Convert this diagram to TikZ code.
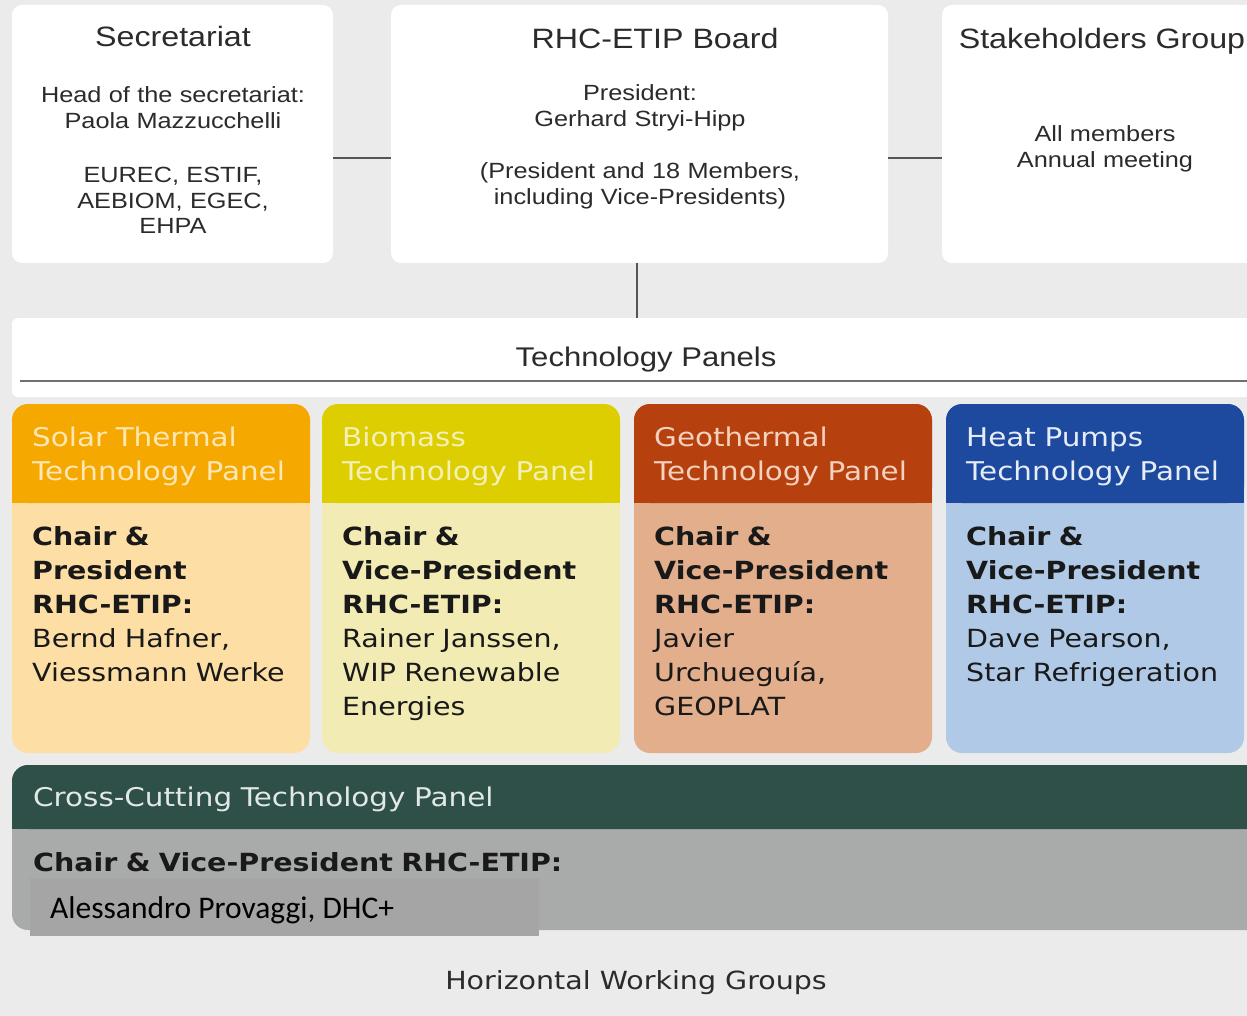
\documentclass[tikz,border=0pt]{standalone}
\usepackage{fontspec}
\setmainfont[FakeStretch=1.15]{Liberation Sans}
\newfontfamily\panelfont[FakeStretch=1.14]{DejaVu Sans}
\newfontfamily\namefont{Carlito}
\usetikzlibrary{positioning}

\definecolor{bggray}{HTML}{EBEBEB}
\definecolor{txtgray}{HTML}{2B2B2B}
\definecolor{linegray}{HTML}{555555}
\definecolor{rulegray}{HTML}{707070}
\definecolor{solarhd}{HTML}{F5A800}
\definecolor{solarbd}{HTML}{FDDFA6}
\definecolor{solartx}{HTML}{FEE7B5}
\definecolor{biohd}{HTML}{DCCE00}
\definecolor{biobd}{HTML}{F2ECB4}
\definecolor{biotx}{HTML}{F5F0B8}
\definecolor{geohd}{HTML}{B7400F}
\definecolor{geobd}{HTML}{E2AE8B}
\definecolor{geotx}{HTML}{F3D2BE}
\definecolor{hphd}{HTML}{1D4A9E}
\definecolor{hpbd}{HTML}{AFC9E6}
\definecolor{hptx}{HTML}{E6EDF8}
\definecolor{crosshd}{HTML}{2E5049}
\definecolor{crossbd}{HTML}{A9ABAA}
\definecolor{crosstx}{HTML}{E2E8E6}
\definecolor{namegray}{HTML}{A5A5A5}

\begin{document}
\begin{tikzpicture}[x=1pt,y=-1pt,
  topbox/.style={fill=white, rounded corners=10pt, inner sep=0pt},
  toptitle/.style={anchor=base, text=txtgray, inner sep=0pt, font=\fontsize{28}{34}\selectfont},
  toptext/.style={anchor=base, text=txtgray, inner sep=0pt, text width=330pt, align=center, font=\fontsize{22}{25.5}\selectfont},
  link/.style={draw=linegray, line width=2pt},
  panel/.style={rounded corners=16pt, minimum width=298pt, minimum height=349pt, inner sep=0pt},
  hdtext/.style={anchor=base west, inner sep=0pt, text width=290pt, align=left, font=\panelfont\fontsize{25.8}{34}\selectfont},
  bodytext/.style={anchor=base west, inner sep=0pt, text width=290pt, align=left, text=black!90, font=\panelfont\fontsize{25}{34}\selectfont}]
\clip (0,0) rectangle (1247,1016);
\fill[bggray] (0,0) rectangle (1247,1016);

% top row
\node[topbox, minimum width=321pt, minimum height=258pt] (secr) at (172.5,134) {};
\node[topbox, minimum width=497pt, minimum height=258pt] (board) at (639.5,134) {};
\node[topbox, minimum width=360pt, minimum height=258pt] (stake) at (1122,134) {};

\node[toptitle] (secr-title) at (173,47) {Secretariat};
\node[toptext] (secr-text) at (173,103) {Head of the secretariat:\\Paola Mazzucchelli\\[29pt]EUREC, ESTIF,\\AEBIOM, EGEC,\\EHPA};
\node[toptitle] (board-title) at (655,49) {RHC-ETIP Board};
\node[toptext] (board-text) at (640,101) {President:\\Gerhard Stryi-Hipp\\[27pt](President and 18 Members,\\including Vice-Presidents)};
\node[toptitle] (stake-title) at (1102,49) {Stakeholders Group};
\node[toptext] (stake-text) at (1105,142) {All members\\Annual meeting};

\draw[link] ([yshift=-24pt]secr.east) -- ([yshift=-24pt]board.west);
\draw[link] ([yshift=-24pt]board.east) -- ([yshift=-24pt]stake.west);

% technology panels
\node[fill=white, rounded corners=6pt, minimum width=1288pt, minimum height=79pt, inner sep=0pt] (band) at (656,357.5) {};
\node[toptitle, font=\fontsize{27}{32}\selectfont] (band-title) at (646,366) {Technology Panels};
\draw[link] ([xshift=-2.5pt]board.south) -- ([xshift=-2.5pt]board.south |- band.north);
\draw[draw=rulegray, line width=2pt] ([xshift=8pt,yshift=-23.5pt]band.west) -- ([yshift=-23.5pt]band.east);

\foreach \n/\x/\hd/\bd/\tc/\ttl/\bdy in {
  solar/12/solarhd/solarbd/solartx/{Solar Thermal}/{President\\RHC-ETIP:\\\mdseries Bernd Hafner,\\Viessmann Werke},
  bio/322/biohd/biobd/biotx/{Biomass}/{Vice-President\\RHC-ETIP:\\\mdseries Rainer Janssen,\\WIP Renewable\\Energies},
  geo/634/geohd/geobd/geotx/{Geothermal}/{Vice-President\\RHC-ETIP:\\\mdseries Javier\\Urchueguía,\\GEOPLAT},
  hp/946/hphd/hpbd/hptx/{Heat Pumps}/{Vice-President\\RHC-ETIP:\\\mdseries Dave Pearson,\\Star Refrigeration}} {
\node[panel, fill=\bd] (\n) at (\x+149,578.5) {};
\node[panel, fill=\hd, minimum height=99pt] (\n-hd) at (\x+149,453.5) {};
\fill[\hd] (\n-hd.west) rectangle (\n-hd.south east);
\node[hdtext, text=\tc] (\n-title) at (\x+20,446) {\ttl\\Technology Panel};
\node[bodytext] (\n-text) at (\x+20,545) {\bfseries Chair \&\\\bdy};
}

% cross-cutting
\node[panel, fill=crossbd, minimum width=1288pt, minimum height=165pt] (cross) at (656,847.5) {};
\node[panel, fill=crosshd, minimum width=1288pt, minimum height=64pt] (cross-hd) at (656,797) {};
\fill[crosshd] (cross-hd.west) rectangle (cross-hd.south east);
\node[hdtext, text=crosstx, text width=700pt] (cross-title) at (33,806) {Cross-Cutting Technology Panel};
\node[bodytext, text width=700pt] (cross-text) at (33,871) {\bfseries Chair \& Vice-President RHC-ETIP:};
\node[fill=namegray, minimum width=509pt, minimum height=58pt, inner sep=0pt] (name-box) at (284.5,907) {};
\node[anchor=base west, inner sep=0pt, font=\namefont\fontsize{31.5}{36}\selectfont] (name) at (50,918) {Alessandro Provaggi, DHC+};

\node[anchor=base, inner sep=0pt, text=txtgray, font=\panelfont\fontsize{25}{30}\selectfont] (hwg) at (636,989) {Horizontal Working Groups};
\end{tikzpicture}
\end{document}
